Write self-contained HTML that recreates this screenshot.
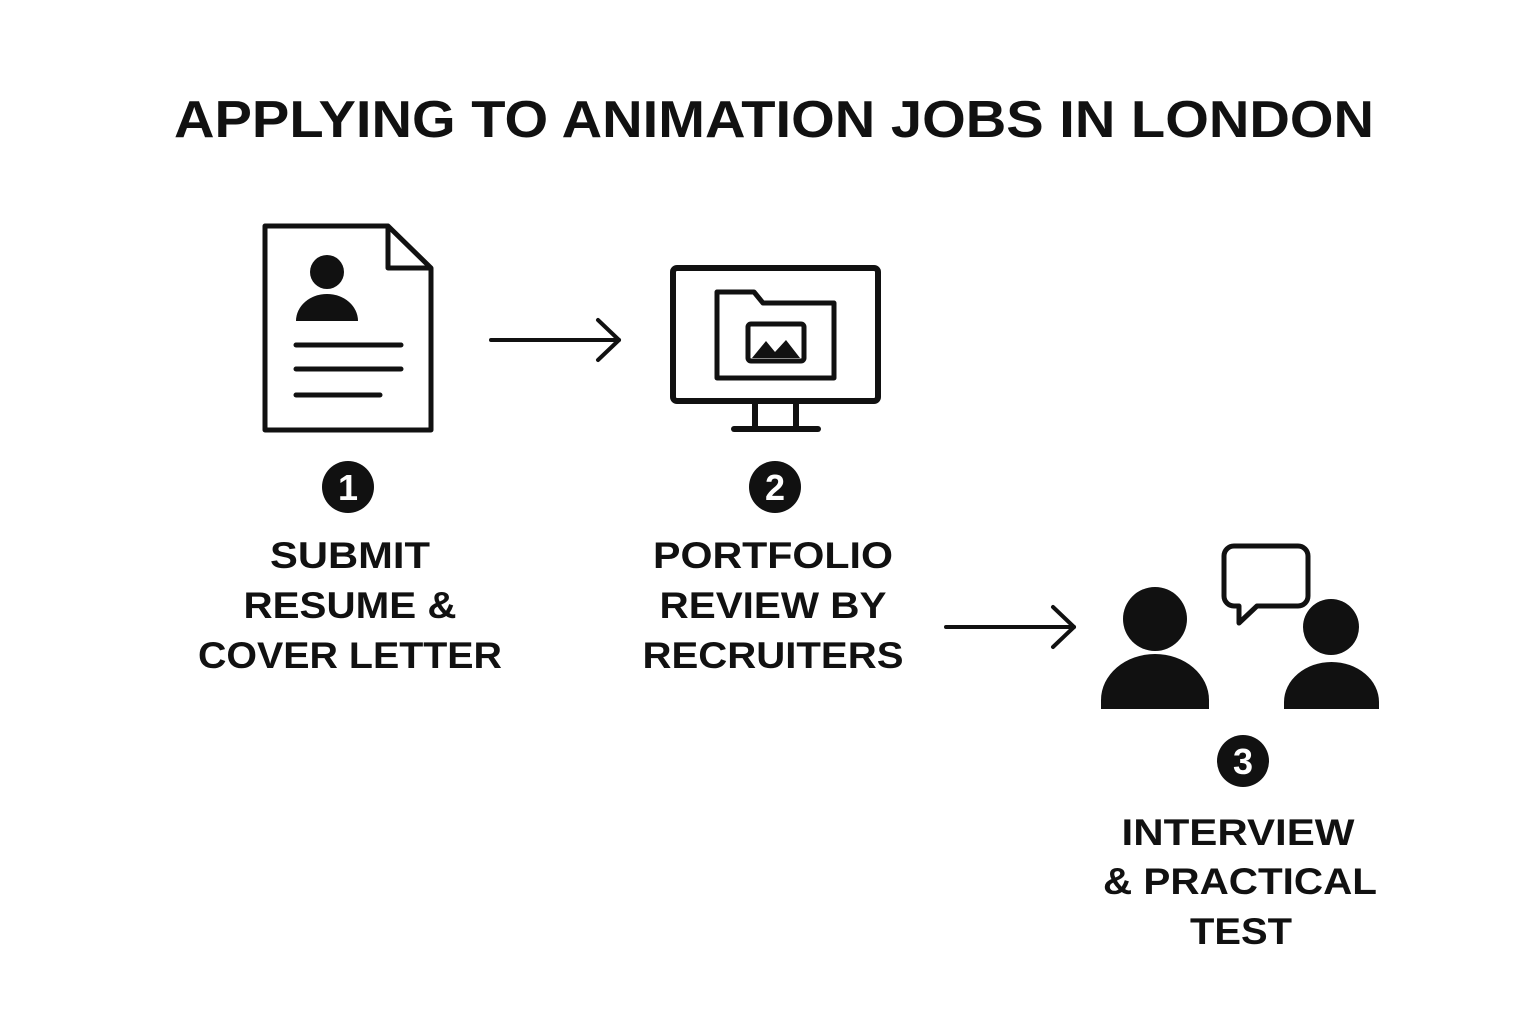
<!DOCTYPE html>
<html><head><meta charset="utf-8"><style>html,body{margin:0;padding:0;background:#fff}svg{display:block}</style></head><body>
<svg width="1536" height="1024" viewBox="0 0 1536 1024" xmlns="http://www.w3.org/2000/svg" font-family="Liberation Sans, Arial, sans-serif" font-weight="bold" fill="#111">
<rect width="1536" height="1024" fill="#fff"/>
<text x="774" y="137" text-anchor="middle" font-size="52" textLength="1200" lengthAdjust="spacingAndGlyphs">APPLYING TO ANIMATION JOBS IN LONDON</text>
<!-- document -->
<g stroke="#111" stroke-width="5" fill="none" stroke-linejoin="round">
<path d="M265 226 H388 L431 268 V430 H265 Z"/>
<path d="M388 226 V268 H431"/>
<g stroke-linecap="round" stroke-width="5"><line x1="296" y1="345" x2="401" y2="345"/><line x1="296" y1="369" x2="401" y2="369"/><line x1="296" y1="395" x2="380" y2="395"/></g>
</g>
<circle cx="327" cy="272" r="17"/>
<path d="M296 321 A31 27 0 0 1 358 321 Z"/>
<!-- arrows -->
<g stroke="#111" stroke-width="4" fill="none" stroke-linecap="round" stroke-linejoin="round">
<line x1="491" y1="340" x2="619" y2="340"/><polyline points="598,320 619,340 598,360"/>
<line x1="946" y1="627" x2="1074" y2="627"/><polyline points="1053,607 1074,627 1053,647"/>
</g>
<!-- monitor -->
<g stroke="#111" stroke-width="6" fill="none" stroke-linejoin="round">
<rect x="673" y="268" width="205" height="133" rx="4"/>
<line x1="755" y1="401" x2="755" y2="428"/><line x1="796" y1="401" x2="796" y2="428"/>
<line x1="734" y1="429" x2="818" y2="429" stroke-linecap="round"/>
<path d="M717 292 H754 L763 303 H834 V378 H717 Z" stroke-width="5"/>
<rect x="748" y="324" width="56" height="37" rx="3" stroke-width="5"/>
</g>
<path d="M752 358 L766 341 L775 352 L786 340 L800 358 Z"/>
<!-- people -->
<circle cx="1155" cy="619" r="32"/>
<path d="M1101 709 V700 A54 46 0 0 1 1209 700 V709 Z"/>
<circle cx="1331" cy="627" r="28"/>
<path d="M1284 709 V702 A47.5 40 0 0 1 1379 702 V709 Z"/>
<path d="M1234 546 H1298 A10 10 0 0 1 1308 556 V596 A10 10 0 0 1 1298 606 H1257 L1239 623 V606 H1234 A10 10 0 0 1 1224 596 V556 A10 10 0 0 1 1234 546 Z" fill="none" stroke="#111" stroke-width="5" stroke-linejoin="round"/>
<!-- numbers -->
<circle cx="348" cy="487" r="26"/><text x="348" y="500" text-anchor="middle" font-size="36" fill="#fff">1</text>
<circle cx="775" cy="487" r="26"/><text x="775" y="500" text-anchor="middle" font-size="36" fill="#fff">2</text>
<circle cx="1243" cy="761" r="26"/><text x="1243" y="774" text-anchor="middle" font-size="36" fill="#fff">3</text>
<!-- labels -->
<g font-size="37" text-anchor="middle">
<text x="350" y="568" textLength="160" lengthAdjust="spacingAndGlyphs">SUBMIT</text>
<text x="350" y="618" textLength="213" lengthAdjust="spacingAndGlyphs">RESUME &amp;</text>
<text x="350" y="668" textLength="304" lengthAdjust="spacingAndGlyphs">COVER LETTER</text>
<text x="773" y="568" textLength="240" lengthAdjust="spacingAndGlyphs">PORTFOLIO</text>
<text x="773" y="618" textLength="227" lengthAdjust="spacingAndGlyphs">REVIEW BY</text>
<text x="773" y="668" textLength="261" lengthAdjust="spacingAndGlyphs">RECRUITERS</text>
<text x="1238" y="845" textLength="233" lengthAdjust="spacingAndGlyphs">INTERVIEW</text>
<text x="1240" y="894" textLength="274" lengthAdjust="spacingAndGlyphs">&amp; PRACTICAL</text>
<text x="1241" y="944" textLength="102" lengthAdjust="spacingAndGlyphs">TEST</text>
</g>
</svg>
</body></html>
